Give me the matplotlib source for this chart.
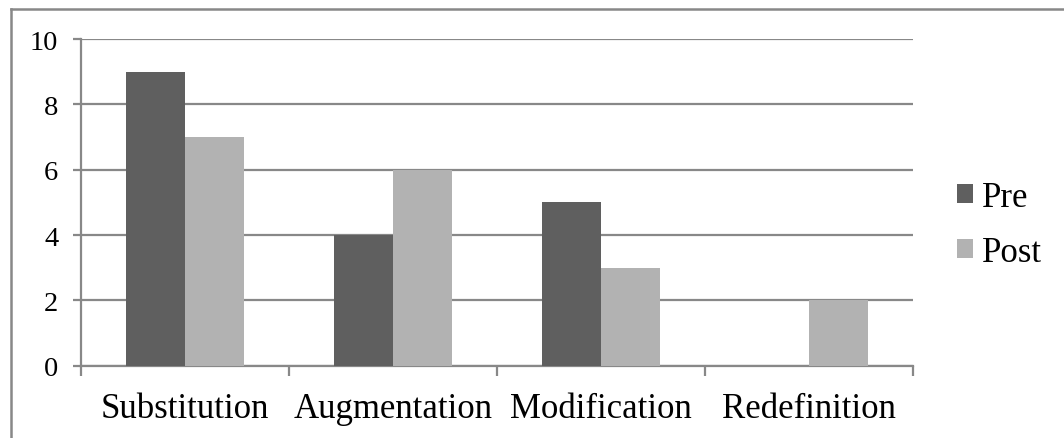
import matplotlib
matplotlib.use("Agg")
import matplotlib.pyplot as plt
from matplotlib.lines import Line2D
import numpy as np

# data
categories = ["Substitution", "Augmentation", "Modification", "Redefinition"]
pre_values = [9, 4, 5, 0]
post_values = [7, 6, 3, 2]
series_names = ["Pre", "Post"]
y_ticks = [0, 2, 4, 6, 8, 10]

PRE_COLOR = "#5f5f5f"
POST_COLOR = "#b2b2b2"
GRID_COLOR = "#888888"

plt.rcParams["font.family"] = ["Liberation Serif", "DejaVu Serif"]

W, H = 1064, 439
fig = plt.figure(figsize=(W / 100, H / 100), dpi=100)
ax = fig.add_axes([81 / W, 1 - 366.7 / H, (913 - 81) / W, (366.7 - 40) / H])

x = np.arange(len(categories))
bw = 1 / 3.5
ax.bar(x - bw / 2, pre_values, bw, color=PRE_COLOR, label=series_names[0], zorder=3)
ax.bar(x + bw / 2, post_values, bw, color=POST_COLOR, label=series_names[1], zorder=3)

ax.set_xlim(-0.5, len(categories) - 0.5)
ax.set_ylim(0, 10)

# horizontal grid
ax.set_yticks(y_ticks)
ax.set_yticklabels([str(v) for v in y_ticks], fontsize=20.5)
ax.yaxis.grid(True, color=GRID_COLOR, linewidth=1.6, zorder=0)
ax.set_axisbelow(True)

# category boundaries as ticks, labels at centres
ax.set_xticks(np.arange(-0.5, len(categories), 1.0))
ax.set_xticklabels([])
ax.set_xticks(x, minor=True)
ax.set_xticklabels(categories, minor=True, fontsize=25)
ax.tick_params(axis="x", which="major", length=7.2, width=1.6, color=GRID_COLOR, direction="out")
ax.tick_params(axis="x", which="minor", length=0, pad=19)
ax.tick_params(axis="y", length=5.8, width=1.6, color=GRID_COLOR, pad=10.5)

for side in ["top", "right"]:
    ax.spines[side].set_visible(False)
for side in ["left", "bottom"]:
    ax.spines[side].set_color(GRID_COLOR)
    ax.spines[side].set_linewidth(1.6)

ax.legend(loc="center left", bbox_to_anchor=(957 / W, 1 - 226 / H),
          bbox_transform=fig.transFigure, frameon=False, fontsize=25,
          handlelength=0.46, handleheight=0.46, handletextpad=0.26,
          labelspacing=0.64, borderaxespad=0, borderpad=0)

# outer chart border (only top and left visible in the crop)
bx, by = 11 / W, 1 - 10 / H
fig.add_artist(Line2D([bx, 1], [by, by], transform=fig.transFigure, color=GRID_COLOR, lw=1.8))
fig.add_artist(Line2D([bx, bx], [0, by], transform=fig.transFigure, color=GRID_COLOR, lw=1.8))

fig.savefig("out.png", dpi=100, facecolor="white")
